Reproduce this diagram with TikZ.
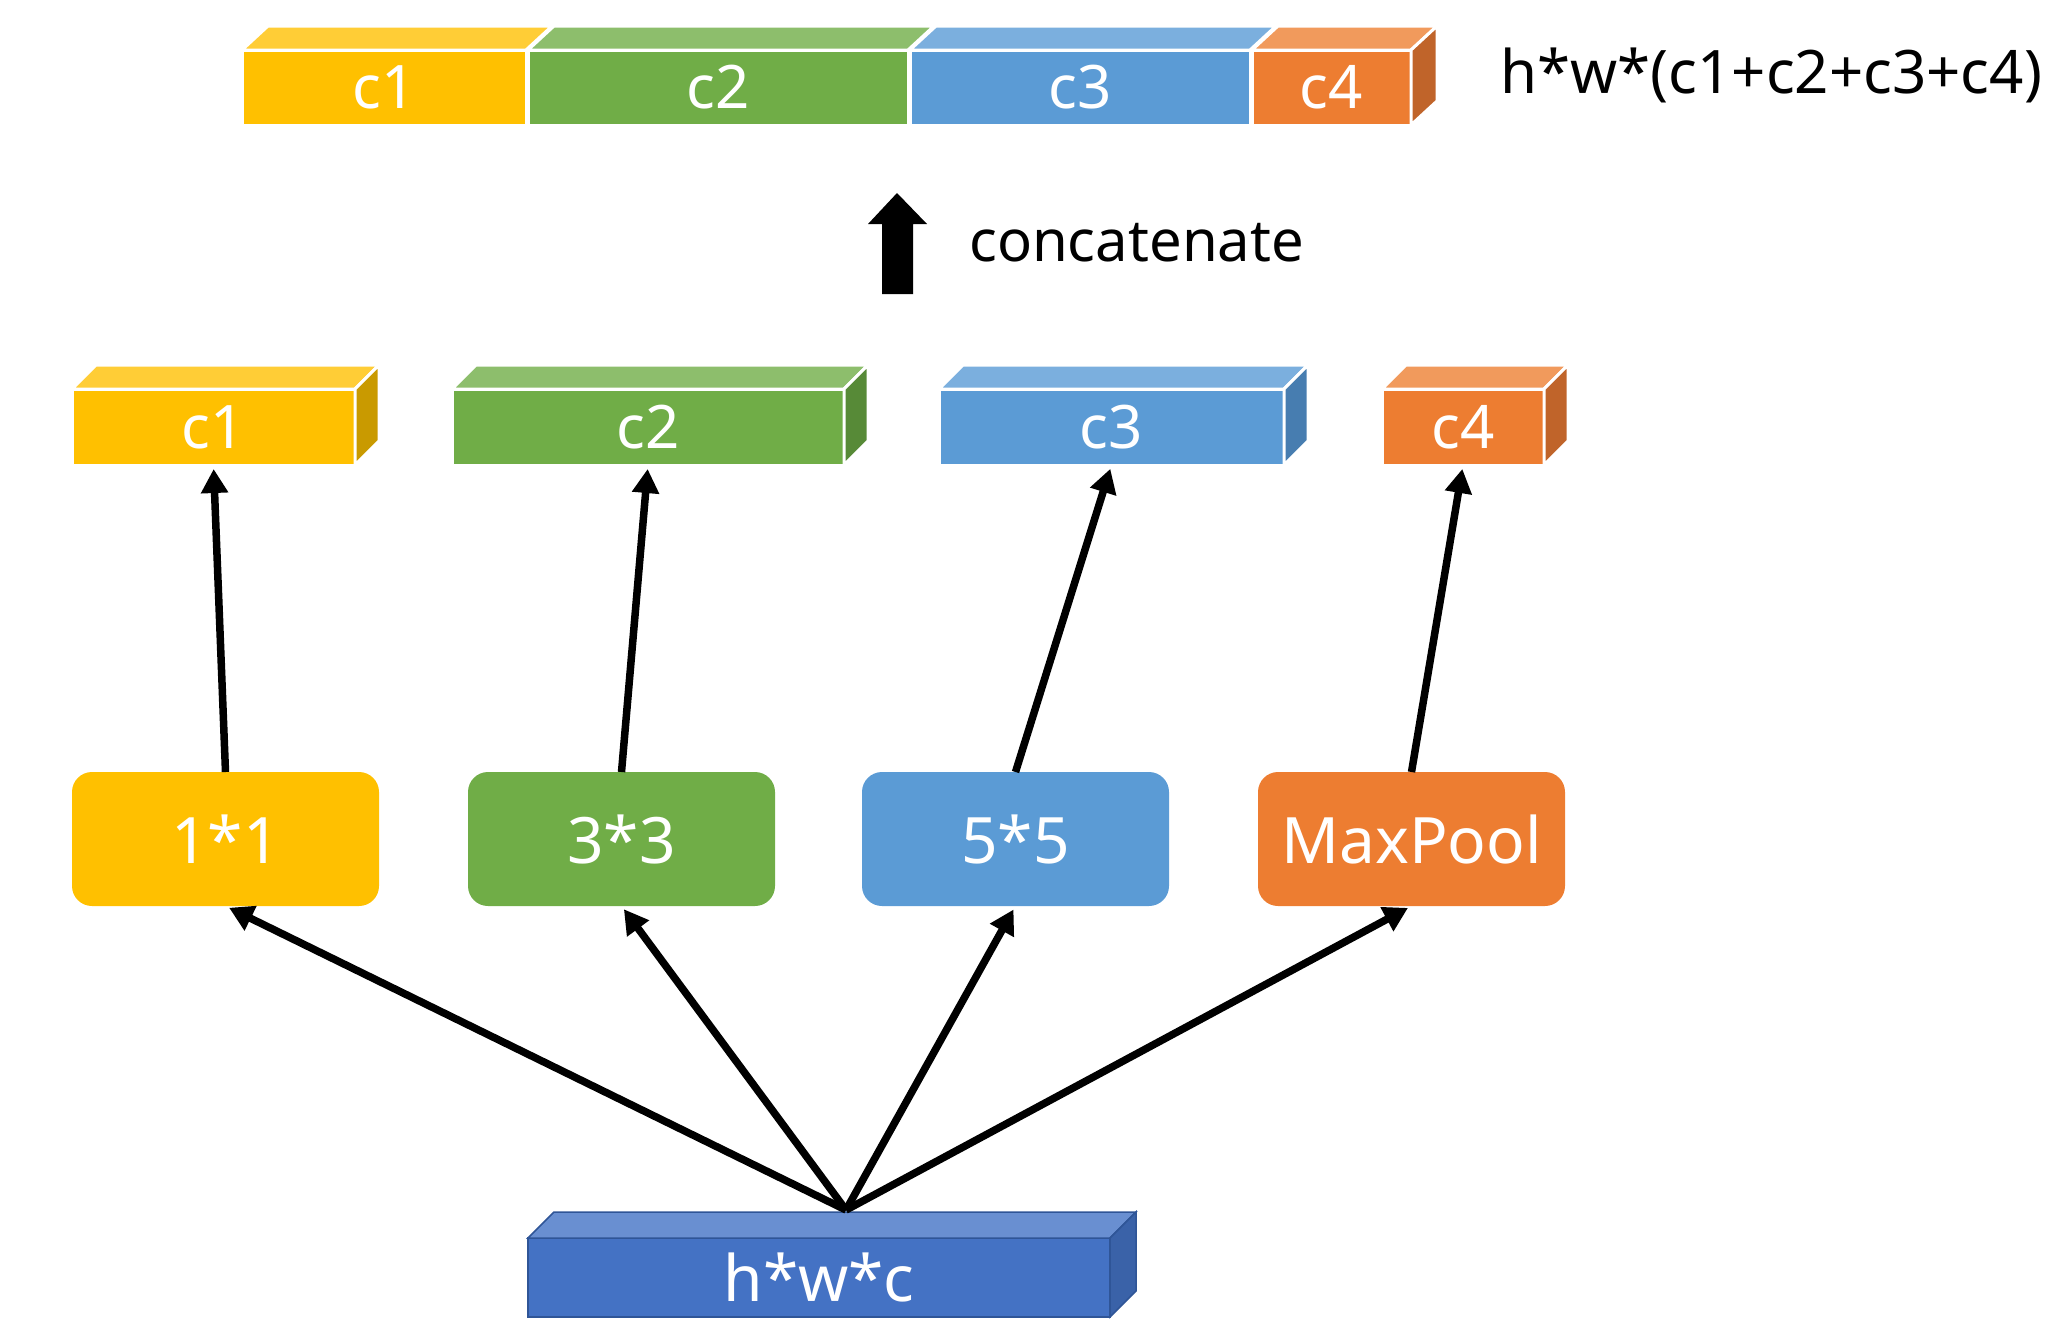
\documentclass[tikz,border=0pt]{standalone}
\usepackage{fontspec}
\setmainfont{Noto Sans}
\usetikzlibrary{arrows.meta,calc}
\definecolor{yF}{HTML}{FFC000}\definecolor{yT}{HTML}{FFCD36}\definecolor{yS}{HTML}{C99A00}
\definecolor{gF}{HTML}{70AD47}\definecolor{gT}{HTML}{8DBE6C}\definecolor{gS}{HTML}{578A37}
\definecolor{bF}{HTML}{5B9BD5}\definecolor{bT}{HTML}{7BAFDE}\definecolor{bS}{HTML}{477DB0}
\definecolor{oF}{HTML}{ED7D31}\definecolor{oT}{HTML}{F19A5C}\definecolor{oS}{HTML}{C0642A}
\definecolor{dF}{HTML}{4472C4}\definecolor{dT}{HTML}{698FD1}\definecolor{dS}{HTML}{3A62A8}\definecolor{dE}{HTML}{2F5597}
\tikzset{
  front/.style={rectangle, inner sep=0pt, outer sep=0pt, anchor=north west, draw=white, line width=3pt,
    text=white, font=\fontsize{60}{72}\selectfont},
  face/.style={draw=white, line width=3pt, line join=round},
  opbox/.style={rectangle, rounded corners=20pt, inner sep=0pt, outer sep=0pt, anchor=north west,
    minimum width=307pt, minimum height=134pt, text=white, font=\fontsize{64}{76}\selectfont},
  arr/.style={line width=7.5pt, -{Triangle[length=24pt,width=26pt]}},
  plain/.style={font=\fontsize{60}{72}\selectfont, text=black, anchor=west, inner sep=0pt},
}
\newcommand\topface[4]{% node, colour, dx, dy
  \filldraw[face, fill=#2] (#1.north west) -- ++(#3,-#4) -- ($(#1.north east)+(#3,-#4)$) -- (#1.north east) -- cycle;}
\newcommand\sideface[4]{%
  \filldraw[face, fill=#2] (#1.north east) -- ++(#3,-#4) -- ($(#1.south east)+(#3,-#4)$) -- (#1.south east) -- cycle;}
\begin{document}
\begin{tikzpicture}[x=1pt,y=-1pt]
\useasboundingbox (0,0) rectangle (2048,1342);
% top concatenated bar
\node[front, fill=yF, minimum width=284pt, minimum height=75pt] (t1) at (242,50) {c1};
\node[front, fill=gF, minimum width=380pt, minimum height=75pt] (t2) at (528,50) {c2};
\node[front, fill=bF, minimum width=340pt, minimum height=75pt] (t3) at (910,50) {c3};
\node[front, fill=oF, minimum width=159pt, minimum height=75pt] (t4) at (1252,50) {c4};
\topface{t1}{yT}{26}{24}
\topface{t2}{gT}{26}{24}
\topface{t3}{bT}{26}{24}
\topface{t4}{oT}{26}{24}
\sideface{t4}{oS}{26}{24}
\node[plain] (dims) at (1500,75) {h*w*(c1+c2+c3+c4)};
% concatenate arrow
\fill[black] (897,193) -- (927,224) -- (913,224) -- (913,294) -- (882,294) -- (882,224) -- (868,224) -- cycle;
\node[plain, font=\fontsize{58}{70}\selectfont] (cat) at (969,243) {concatenate};
% middle blocks
\node[front, fill=yF, minimum width=283pt, minimum height=76pt] (m1) at (72,389) {c1};
\node[front, fill=gF, minimum width=392pt, minimum height=76pt] (m2) at (452,389) {c2};
\node[front, fill=bF, minimum width=345pt, minimum height=76pt] (m3) at (939,389) {c3};
\node[front, fill=oF, minimum width=162pt, minimum height=76pt] (m4) at (1382,389) {c4};
\foreach \n/\t/\s in {m1/yT/yS, m2/gT/gS, m3/bT/bS, m4/oT/oS}{
  \topface{\n}{\t}{24}{24}
  \sideface{\n}{\s}{24}{24}
}
% operation boxes
\node[opbox, fill=yF] (o1) at (72,772) {1*1};
\node[opbox, fill=gF] (o2) at (468,772) {3*3};
\node[opbox, fill=bF] (o3) at (862,772) {5*5};
\node[opbox, fill=oF] (o4) at (1258,772) {MaxPool};
% bottom input block
\node[front, draw=dE, line width=1.5pt, fill=dF, minimum width=582pt, minimum height=79pt,
  font=\fontsize{64}{76}\selectfont] (inp) at (528,1238) {h*w*c};
\filldraw[draw=dE, line width=1.5pt, fill=dT] (inp.north west) -- ++(26,-26) -- ($(inp.north east)+(26,-26)$) -- (inp.north east) -- cycle;
\filldraw[draw=dE, line width=1.5pt, fill=dS] (inp.north east) -- ++(26,-26) -- ($(inp.south east)+(26,-26)$) -- (inp.south east) -- cycle;
\coordinate (src) at (846,1210);
% arrows
\foreach \o in {o1,o2,o3,o4}{
  \draw[arr, shorten >=4pt] (src) -- (\o.south);
}
\foreach \o/\m in {o1/m1,o2/m2,o3/m3,o4/m4}{
  \draw[arr, shorten >=4pt] (\o.north) -- (\m.south);
}
\end{tikzpicture}
\end{document}
